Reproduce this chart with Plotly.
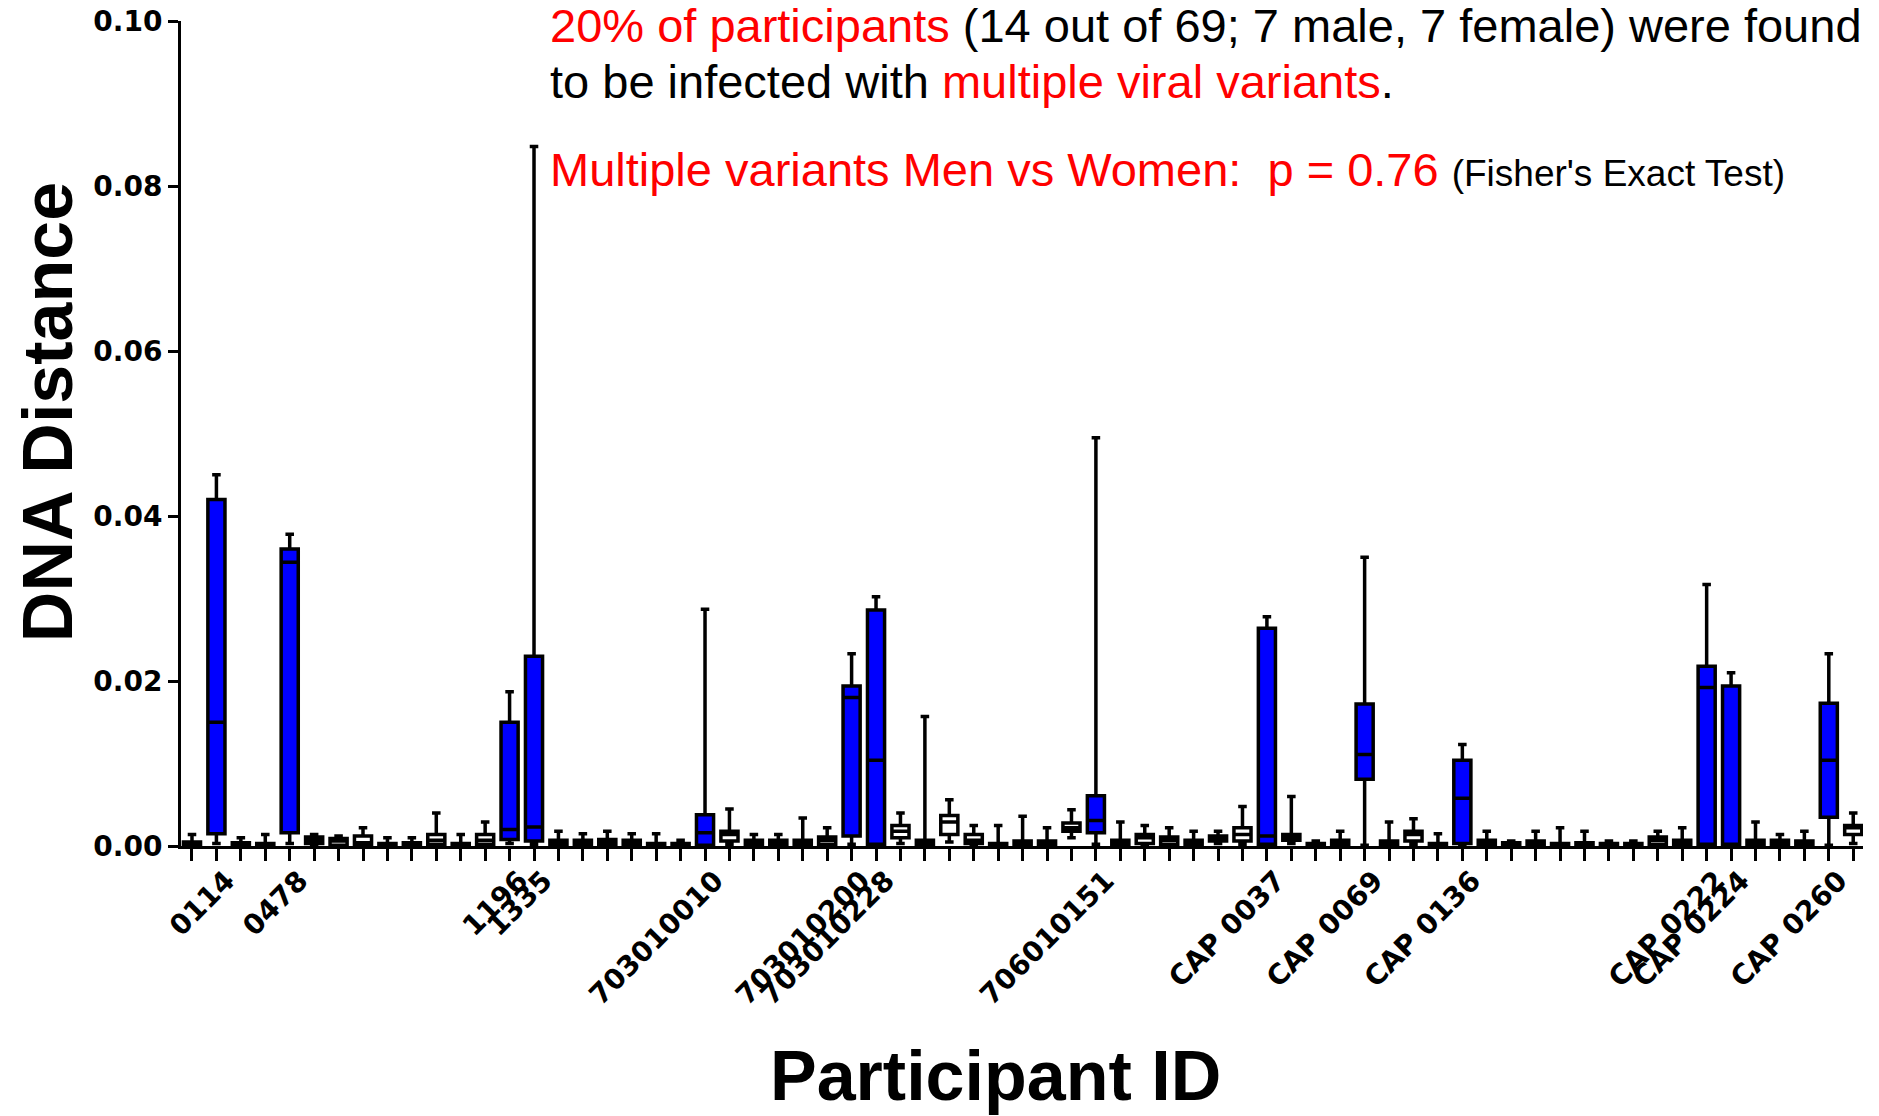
import plotly.graph_objects as go

# ---------------- data ----------------
participant_labels = [""] * 69
named = {1: "0114", 4: "0478", 13: "1196", 14: "1335", 21: "703010010",
         27: "703010200", 28: "703010228", 37: "706010151", 44: "CAP 0037",
         48: "CAP 0069", 52: "CAP 0136", 62: "CAP 0222", 63: "CAP 0224",
         67: "CAP 0260"}
for k, v in named.items():
    participant_labels[k] = v

multiple_variants = [1, 4, 13, 14, 21, 27, 28, 37, 44, 48, 52, 62, 63, 67]

lower = [0.0, 0.0003, 0.0, 0.0, 0.0003, 0.0001, 0.0, 0.0, 0.0, 0.0,
         0.0, 0.0, 0.0, 0.0003, 0.0002, 0.0, 0.0, 0.0, 0.0, 0.0,
         0.0, 0.0, 0.0002, 0.0, 0.0, 0.0, 0.0, 0.0002, 0.0, 0.0003,
         0.0, 0.0005, 0.0, 0.0, 0.0, 0.0, 0.0010, 0.0002, 0.0, 0.0,
         0.0, 0.0, 0.0003, 0.0002, 0.0, 0.0003, 0.0, 0.0, 0.0001, 0.0,
         0.0002, 0.0, 0.0, 0.0, 0.0, 0.0, 0.0, 0.0, 0.0, 0.0,
         0.0, 0.0, 0.0, 0.0, 0.0, 0.0, 0.0, 0.0001, 0.0003]
q1 = [0.0001, 0.0015, 0.0001, 0.0001, 0.0016, 0.0003, 0.0001, 0.0001, 0.0, 0.0001,
      0.0002, 0.0, 0.0002, 0.0008, 0.0006, 0.0001, 0.0001, 0.0001, 0.0001, 0.0,
      0.0, 0.0001, 0.0006, 0.0002, 0.0002, 0.0001, 0.0002, 0.0012, 0.0002, 0.0010,
      0.0002, 0.0014, 0.0003, 0.0, 0.0001, 0.0, 0.0018, 0.0016, 0.0002, 0.0003,
      0.0002, 0.0001, 0.0006, 0.0006, 0.0002, 0.0007, 0.0, 0.0002, 0.0081, 0.0001,
      0.0006, 0.0, 0.0003, 0.0001, 0.0, 0.0001, 0.0, 0.0, 0.0, 0.0,
      0.0002, 0.0001, 0.0002, 0.0001, 0.0001, 0.0001, 0.0001, 0.0035, 0.0014]
median = [0.0004, 0.0150, 0.0002, 0.0002, 0.0344, 0.0007, 0.0006, 0.0004, 0.0002, 0.0002,
          0.0007, 0.0001, 0.0007, 0.0020, 0.0023, 0.0005, 0.0005, 0.0005, 0.0004, 0.0001,
          0.0001, 0.0016, 0.0014, 0.0005, 0.0005, 0.0004, 0.0007, 0.0180, 0.0104, 0.0018,
          0.0005, 0.0029, 0.0007, 0.0001, 0.0004, 0.0003, 0.0022, 0.0031, 0.0005, 0.0010,
          0.0007, 0.0004, 0.0009, 0.0014, 0.0012, 0.0011, 0.0001, 0.0004, 0.0111, 0.0004,
          0.0014, 0.0001, 0.0058, 0.0004, 0.0002, 0.0003, 0.0001, 0.0002, 0.0001, 0.0001,
          0.0007, 0.0004, 0.0192, 0.0002, 0.0004, 0.0004, 0.0004, 0.0104, 0.0022]
q3 = [0.0005, 0.0420, 0.0004, 0.0003, 0.0360, 0.0011, 0.0009, 0.0012, 0.0003, 0.0004,
      0.0014, 0.0003, 0.0014, 0.0150, 0.0230, 0.0007, 0.0007, 0.0008, 0.0007, 0.0003,
      0.0003, 0.0038, 0.0018, 0.0007, 0.0007, 0.0007, 0.0011, 0.0194, 0.0286, 0.0025,
      0.0007, 0.0037, 0.0014, 0.0003, 0.0006, 0.0006, 0.0028, 0.0061, 0.0007, 0.0014,
      0.0011, 0.0007, 0.0012, 0.0022, 0.0264, 0.0014, 0.0003, 0.0007, 0.0172, 0.0006,
      0.0018, 0.0003, 0.0104, 0.0007, 0.0004, 0.0006, 0.0003, 0.0004, 0.0003, 0.0003,
      0.0011, 0.0007, 0.0218, 0.0194, 0.0007, 0.0007, 0.0006, 0.0173, 0.0025]
upper = [0.0014, 0.0450, 0.0010, 0.0014, 0.0378, 0.0014, 0.0012, 0.0022, 0.0010, 0.0010,
         0.0040, 0.0014, 0.0029, 0.0187, 0.0848, 0.0018, 0.0015, 0.0018, 0.0015, 0.0015,
         0.0007, 0.0287, 0.0045, 0.0014, 0.0014, 0.0034, 0.0022, 0.0233, 0.0302, 0.0040,
         0.0157, 0.0056, 0.0025, 0.0025, 0.0036, 0.0022, 0.0044, 0.0495, 0.0029, 0.0025,
         0.0022, 0.0018, 0.0018, 0.0048, 0.0278, 0.0060, 0.0006, 0.0018, 0.0350, 0.0029,
         0.0033, 0.0015, 0.0123, 0.0018, 0.0006, 0.0018, 0.0022, 0.0018, 0.0006, 0.0006,
         0.0018, 0.0022, 0.0317, 0.0210, 0.0029, 0.0014, 0.0018, 0.0233, 0.0040]

y_ticks = [0.0, 0.02, 0.04, 0.06, 0.08, 0.10]

# ---------------- figure ----------------
positions = list(range(len(participant_labels)))
groups = {
    "multiple": [i for i in positions if i in multiple_variants],
    "single": [i for i in positions if i not in multiple_variants],
}
fills = {"multiple": "#0000FF", "single": "#FFFFFF"}

fig = go.Figure()
for name, idx in groups.items():
    fig.add_trace(go.Box(
        x=idx,
        q1=[q1[i] for i in idx],
        median=[median[i] for i in idx],
        q3=[q3[i] for i in idx],
        lowerfence=[lower[i] for i in idx],
        upperfence=[upper[i] for i in idx],
        width=0.7,
        whiskerwidth=0.5,
        fillcolor=fills[name],
        line=dict(color="black", width=3.5),
        boxpoints=False,
        showlegend=False,
        name=name,
    ))

tick_font = dict(family="DejaVu Sans", size=28, color="black", weight="bold")
title_font = dict(family="Liberation Sans, Arial", size=70, color="black", weight="bold")
note_font = dict(family="Liberation Sans, Arial", size=47, color="black")

fig.update_layout(
    width=1879, height=1116,
    margin=dict(l=181, r=16, t=21, b=270, autoexpand=False),
    paper_bgcolor="white", plot_bgcolor="white",
    boxmode="overlay",
    xaxis=dict(
        range=[-0.45, 68.4], tickmode="array", tickvals=positions,
        ticktext=participant_labels, tickangle=-45,
        ticks="outside", ticklen=12, tickwidth=3, tickcolor="black",
        ticklabelshift=10, ticklabelstandoff=-8,
        showline=True, linecolor="black", linewidth=3,
        showgrid=False, zeroline=False, tickfont=tick_font, automargin=False,
    ),
    yaxis=dict(
        range=[0, 0.1], tickmode="array", tickvals=y_ticks, tickformat=".2f",
        ticks="outside", ticklen=10, tickwidth=3, tickcolor="black",
        showline=True, linecolor="black", linewidth=3,
        showgrid=False, zeroline=False, tickfont=tick_font, automargin=False,
    ),
)

RED = "#FF0000"
fig.add_annotation(
    text=f'<span style="color:{RED}">20% of participants</span> (14 out of 69; 7 male, 7 female) were found',
    xref="paper", yref="paper", x=0.2182, y=0.9947, xanchor="left", yanchor="middle",
    showarrow=False, font=note_font)
fig.add_annotation(
    text=f'to be infected with <span style="color:{RED}">multiple viral variants</span>.',
    xref="paper", yref="paper", x=0.2182, y=0.9265, xanchor="left", yanchor="middle",
    showarrow=False, font=note_font)
fig.add_annotation(
    text=(f'<span style="color:{RED}">Multiple variants Men vs Women:&nbsp; p = 0.76</span> '
          '<span style="font-size:37px">(Fisher\'s Exact Test)</span>'),
    xref="paper", yref="paper", x=0.2182, y=0.820, xanchor="left", yanchor="middle",
    showarrow=False, font=note_font)

fig.add_annotation(
    text="DNA Distance", textangle=-90,
    xref="paper", yref="paper", x=-0.079, y=0.526, xanchor="center", yanchor="middle",
    showarrow=False, font=title_font)
fig.add_annotation(
    text="Participant ID",
    xref="paper", yref="paper", x=0.4845, y=-0.2788, xanchor="center", yanchor="middle",
    showarrow=False, font=title_font)

fig.write_html("out.html", config={"displayModeBar": False},
               post_script="document.body.style.margin='0px';")
